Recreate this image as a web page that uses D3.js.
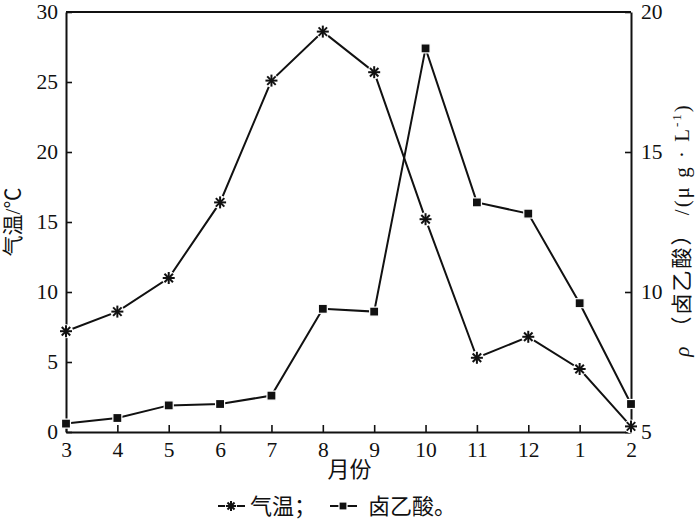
<!DOCTYPE html>
<html>
<head>
<meta charset="utf-8">
<script src="https://cdn.jsdelivr.net/npm/d3@7"></script>
<style>
body{margin:0;background:#fff;}
svg{display:block;}
text{font-family:"Liberation Serif","Noto Sans CJK SC",serif;fill:#111;}
</style>
</head>
<body>
<div id="chart"></div>
<script>
const months = ["3","4","5","6","7","8","9","10","11","12","1","2"];
const temperature = [7.2, 8.6, 11.0, 16.4, 25.1, 28.6, 25.7, 15.2, 5.3, 6.8, 4.5, 0.4];
const haa = [5.3, 5.5, 5.95, 6.0, 6.3, 9.4, 9.3, 18.7, 13.2, 12.8, 9.6, 6.0];
const leftTicks = [0, 5, 10, 15, 20, 25, 30];
const rightTicks = [5, 10, 15, 20];
const leftTitle = "气温/℃";
const xTitle = "月份";
const legendTemp = "气温；";
const legendHaa = "卤乙酸。";

const W = 700, H = 531;
const m = {l: 66, r: 631, t: 12, b: 432};
const svg = d3.select("#chart").append("svg").attr("width", W).attr("height", H);

const x = d3.scalePoint().domain(months).range([m.l, m.r]);
const yL = d3.scaleLinear().domain([0, 30]).range([m.b, m.t]);
const yR = d3.scaleLinear().domain([5, 20]).range([m.b, m.t]);

const fs = 21.5;
function styleAxis(g){
  g.selectAll("path.domain").attr("stroke", "#111").attr("stroke-width", 2);
  g.selectAll(".tick line").attr("stroke", "#111").attr("stroke-width", 1.6);
  g.selectAll(".tick text").attr("font-size", fs).attr("font-family", "Liberation Serif, serif").attr("fill", "#111");
}

// top border
svg.append("line").attr("x1", m.l).attr("x2", m.r).attr("y1", m.t).attr("y2", m.t)
  .attr("stroke", "#111").attr("stroke-width", 2);

svg.append("g").attr("transform", `translate(${m.l},0)`)
  .call(d3.axisLeft(yL).tickValues(leftTicks).tickSizeInner(-6).tickSizeOuter(0).tickPadding(8))
  .call(styleAxis);

svg.append("g").attr("transform", `translate(${m.r},0)`)
  .call(d3.axisRight(yR).tickValues(rightTicks).tickSizeInner(-6).tickSizeOuter(0).tickPadding(10))
  .call(styleAxis);

svg.append("g").attr("transform", `translate(0,${m.b})`)
  .call(d3.axisBottom(x).tickSizeInner(-7).tickSizeOuter(0).tickPadding(10))
  .call(styleAxis);

// lines
const lineT = d3.line().x((d, i) => x(months[i])).y(d => yL(d));
const lineH = d3.line().x((d, i) => x(months[i])).y(d => yR(d));

svg.append("path").datum(temperature).attr("d", lineT)
  .attr("fill", "none").attr("stroke", "#111").attr("stroke-width", 2);
svg.append("path").datum(haa).attr("d", lineH)
  .attr("fill", "none").attr("stroke", "#111").attr("stroke-width", 2);

function asterisk(sel, cx, cy, r){
  const g = sel.append("g").attr("transform", `translate(${cx},${cy})`);
  g.append("circle").attr("r", r + 1).attr("fill", "#fff");
  const d = r * Math.SQRT1_2;
  const segs = [[-r,0,r,0],[0,-r,0,r],[-d,-d,d,d],[-d,d,d,-d]];
  segs.forEach(s => g.append("line").attr("x1", s[0]).attr("y1", s[1]).attr("x2", s[2]).attr("y2", s[3])
    .attr("stroke", "#111").attr("stroke-width", 2));
}
function square(sel, cx, cy, s){
  sel.append("rect").attr("x", cx - s/2).attr("y", cy - s/2).attr("width", s).attr("height", s)
    .attr("fill", "#111").attr("stroke", "#fff").attr("stroke-width", 1.2);
}

const mk = svg.append("g");
temperature.forEach((v, i) => asterisk(mk, x(months[i]), yL(v), 6));
haa.forEach((v, i) => square(mk, x(months[i]), yR(v), 9));

// titles
svg.append("text")
  .attr("transform", `translate(20,${(m.t + m.b)/2}) rotate(-90)`)
  .attr("text-anchor", "middle").attr("font-size", 21).text(leftTitle);

const rt = svg.append("text")
  .attr("transform", `translate(689,230) rotate(-90)`)
  .attr("text-anchor", "middle").attr("font-size", 21).attr("letter-spacing", 2);
rt.append("tspan").attr("font-style", "italic").text("ρ ");
rt.append("tspan").text("（卤乙酸） /(μ g · L");
rt.append("tspan").attr("font-size", 13).attr("dy", -8).text("-1");
rt.append("tspan").attr("dy", 8).text(")");

svg.append("text").attr("x", (m.l + m.r)/2 + 1).attr("y", 477)
  .attr("text-anchor", "middle").attr("font-size", 22).text(xTitle);

// legend
const lg = svg.append("g");
const ly = 512;
lg.append("line").attr("x1", 218).attr("x2", 245).attr("y1", ly - 6).attr("y2", ly - 6).attr("stroke", "#111").attr("stroke-width", 2);
asterisk(lg, 231, ly - 6, 5);
lg.append("text").attr("x", 250).attr("y", ly + 2).attr("font-size", 22).text(legendTemp);
lg.append("line").attr("x1", 330).attr("x2", 357).attr("y1", ly - 6).attr("y2", ly - 6).attr("stroke", "#111").attr("stroke-width", 2);
square(lg, 343, ly - 6, 8);
lg.append("text").attr("x", 368).attr("y", ly + 2).attr("font-size", 22).text(legendHaa);
</script>
</body>
</html>
